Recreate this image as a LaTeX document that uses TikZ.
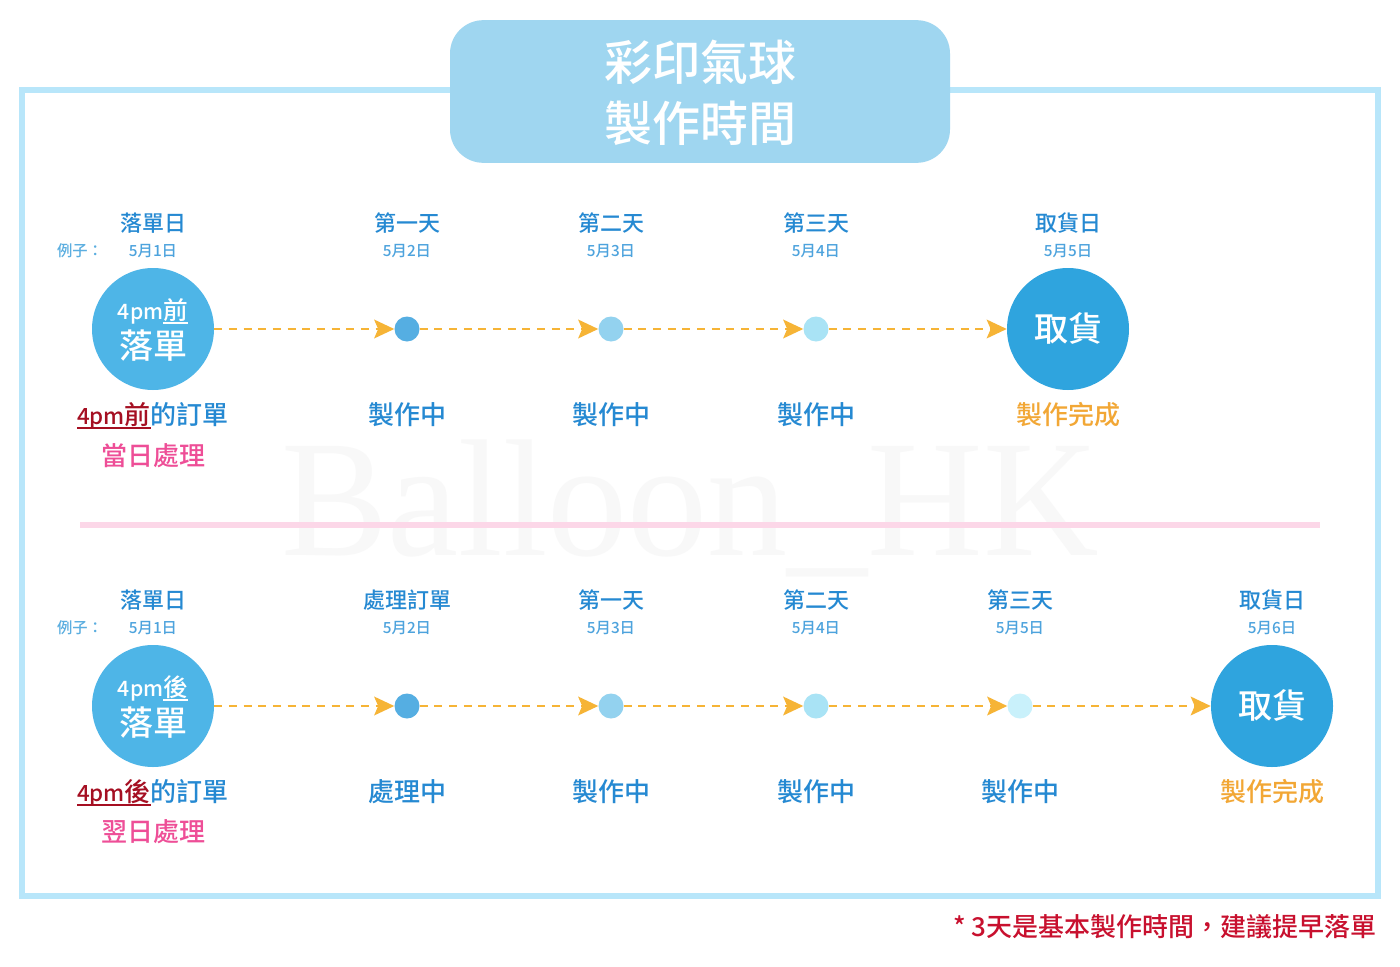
\documentclass[tikz,border=0pt]{standalone}
\usepackage{fontspec}
\setmainfont{Noto Sans CJK TC}
\newfontfamily\medfont{Noto Sans CJK TC Medium}
\newfontfamily\wmfont{Liberation Serif}
\usetikzlibrary{arrows.meta}
\definecolor{frameblue}{HTML}{B8E6FA}
\definecolor{titlebox}{HTML}{9FD6F0}
\definecolor{hdrblue}{HTML}{2589D2}
\definecolor{dateblue}{HTML}{4DA3DD}
\definecolor{exblue}{HTML}{5BAEE0}
\definecolor{bigblue}{HTML}{4EB5E7}
\definecolor{endblue}{HTML}{2FA4DE}
\definecolor{dotA}{HTML}{55AEE2}
\definecolor{dotB}{HTML}{93D2EF}
\definecolor{dotC}{HTML}{A9E3F5}
\definecolor{dotD}{HTML}{C9F1FB}
\definecolor{dashorange}{HTML}{F6B436}
\definecolor{doneorange}{HTML}{F2A735}
\definecolor{darkred}{HTML}{A50F22}
\definecolor{pinktxt}{HTML}{EE4E97}
\definecolor{pinkline}{HTML}{FCD7E8}
\definecolor{notered}{HTML}{C8102E}
\definecolor{wmgray}{HTML}{F8F8F8}
\newcommand\ulx[1]{\leavevmode\setbox0=\hbox{#1}\rlap{\rule[-0.17em]{\wd0}{0.075em}}\box0}
\newcommand\pmx[1]{{\fontsize{0.86em}{1em}\selectfont #1}}
\tikzset{
  hdr/.style={inner sep=0pt, text height=14.2pt, text depth=1.65pt, text=hdrblue, font=\medfont\fontsize{16.5}{18}\selectfont},
  datet/.style={inner sep=0pt, text height=9.9pt, text depth=1.15pt, text=dateblue, font=\medfont\fontsize{11.5}{13}\selectfont},
  ex/.style={datet, text=exblue},
  lbl/.style={inner sep=0pt, text height=16.8pt, text depth=1.95pt, text=hdrblue, font=\medfont\fontsize{19.5}{22}\selectfont},
  done/.style={lbl, text=doneorange},
  pinkl/.style={lbl, text=pinktxt},
  bigc/.style={circle, minimum size=91.5pt, inner sep=0pt},
  ctop/.style={inner sep=0pt, text height=15.9pt, text depth=1.85pt, text=white, font=\medfont\fontsize{18.5}{20}\selectfont},
  cbig/.style={inner sep=0pt, text height=21.9pt, text depth=2.55pt, text=white, font=\medfont\fontsize{25.5}{28}\selectfont},
  ttl/.style={inner sep=0pt, text height=31pt, text depth=3.6pt, text=white, font=\medfont\fontsize{36}{40}\selectfont},
  dotc/.style={circle, minimum size=18.75pt, inner sep=0pt},
  link/.style={draw=dashorange, line width=1.9pt, dash pattern=on 6pt off 5pt,
    -{Stealth[length=15pt, width=14pt, inset=3pt]}},
}
\begin{document}
\begin{tikzpicture}[x=0.75pt, y=-0.75pt]
\useasboundingbox[fill=white] (0,0) rectangle (1400,967);
% watermark
\node[text=wmgray, font=\wmfont\fontsize{125}{125}\selectfont, xscale=0.96, inner sep=0pt, text height=84pt, text depth=16pt, anchor=base] (wm) at (690,555) {Balloon\_HK};
% frame
\draw[frameblue, line width=4.5pt] (22,90) rectangle (1378,896);
% title
\node[fill=titlebox, rounded corners=25pt, minimum width=375pt, minimum height=107pt, inner sep=0pt] (title) at (700,91.5) {};
\node[ttl] (title1) at (700,62) {彩印氣球};
\node[ttl] (title2) at (700,123) {製作時間};

% ===== top row =====
\node[hdr] (h1) at (153,223) {落單日};
\node[hdr] (h2) at (407,223) {第一天};
\node[hdr] (h3) at (611,223) {第二天};
\node[hdr] (h4) at (816,223) {第三天};
\node[hdr] (h5) at (1068,223) {取貨日};
\node[ex] (ex1) at (80,251) {例子：};
\node[datet] (d1) at (153,251) {5月1日};
\node[datet] (d2) at (407,251) {5月2日};
\node[datet] (d3) at (611,251) {5月3日};
\node[datet] (d4) at (816,251) {5月4日};
\node[datet] (d5) at (1068,251) {5月5日};

\node[bigc, fill=bigblue] (s1) at (153,329) {};
\node[ctop] (s1a) at (153,310) {\pmx{4pm}\ulx{前}};
\node[cbig] (s1b) at (153,346) {落單};
\node[dotc, fill=dotA] (t1) at (407,329) {};
\node[dotc, fill=dotB] (t2) at (611,329) {};
\node[dotc, fill=dotC] (t3) at (816,329) {};
\node[bigc, fill=endblue] (e1) at (1068,329) {};
\node[cbig] (e1a) at (1068,329) {取貨};
\draw[link] (s1) -- (t1);
\draw[link] (t1) -- (t2);
\draw[link] (t2) -- (t3);
\draw[link] (t3) -- (e1);

\node[lbl] (l1) at (153,415) {\textcolor{darkred}{\ulx{\pmx{4pm}前}}的訂單};
\node[lbl] (l2) at (407,415) {製作中};
\node[lbl] (l3) at (611,415) {製作中};
\node[lbl] (l4) at (816,415) {製作中};
\node[done] (l5) at (1068,415) {製作完成};
\node[pinkl] (p1) at (153,456) {當日處理};

% divider
\draw[pinkline, line width=4.5pt] (80,525) -- (1320,525);

% ===== bottom row =====
\node[hdr] (bh1) at (153,600) {落單日};
\node[hdr] (bh2) at (407,600) {處理訂單};
\node[hdr] (bh3) at (611,600) {第一天};
\node[hdr] (bh4) at (816,600) {第二天};
\node[hdr] (bh5) at (1020,600) {第三天};
\node[hdr] (bh6) at (1272,600) {取貨日};
\node[ex] (ex2) at (80,628) {例子：};
\node[datet] (bd1) at (153,628) {5月1日};
\node[datet] (bd2) at (407,628) {5月2日};
\node[datet] (bd3) at (611,628) {5月3日};
\node[datet] (bd4) at (816,628) {5月4日};
\node[datet] (bd5) at (1020,628) {5月5日};
\node[datet] (bd6) at (1272,628) {5月6日};

\node[bigc, fill=bigblue] (s2) at (153,706) {};
\node[ctop] (s2a) at (153,687) {\pmx{4pm}\ulx{後}};
\node[cbig] (s2b) at (153,723) {落單};
\node[dotc, fill=dotA] (u1) at (407,706) {};
\node[dotc, fill=dotB] (u2) at (611,706) {};
\node[dotc, fill=dotC] (u3) at (816,706) {};
\node[dotc, fill=dotD] (u4) at (1020,706) {};
\node[bigc, fill=endblue] (e2) at (1272,706) {};
\node[cbig] (e2a) at (1272,706) {取貨};
\draw[link] (s2) -- (u1);
\draw[link] (u1) -- (u2);
\draw[link] (u2) -- (u3);
\draw[link] (u3) -- (u4);
\draw[link] (u4) -- (e2);

\node[lbl] (bl1) at (153,792) {\textcolor{darkred}{\ulx{\pmx{4pm}後}}的訂單};
\node[lbl] (bl2) at (407,792) {處理中};
\node[lbl] (bl3) at (611,792) {製作中};
\node[lbl] (bl4) at (816,792) {製作中};
\node[lbl] (bl5) at (1020,792) {製作中};
\node[done] (bl6) at (1272,792) {製作完成};
\node[pinkl] (p2) at (153,832) {翌日處理};

% footnote
\node[inner sep=0pt, text height=16.8pt, text depth=1.95pt, anchor=east, text=notered, font=\medfont\fontsize{19.5}{22}\selectfont] (note) at (1377,927) {* 3天是基本製作時間，建議提早落單};
\end{tikzpicture}
\end{document}
